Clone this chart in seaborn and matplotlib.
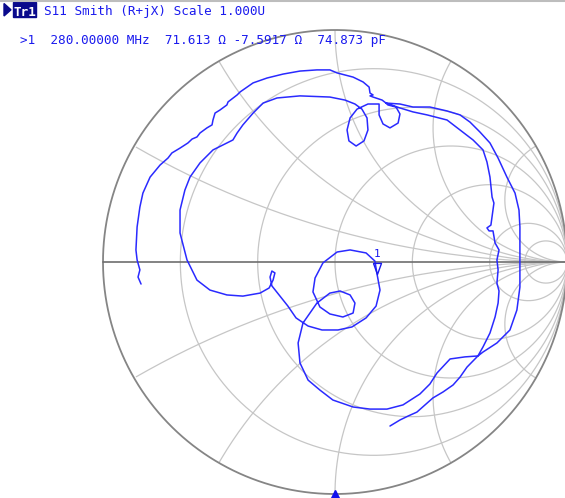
import numpy as np
import pandas as pd
import seaborn as sns
import matplotlib.pyplot as plt
from matplotlib.patches import Rectangle, Polygon

# ---- trace data: reflection coefficient (Re, Im) ----
left_outer = [(-0.836, -0.095), (-0.849, -0.065), (-0.841, -0.034), (-0.853, 0.009),
              (-0.858, 0.052), (-0.853, 0.151), (-0.841, 0.237), (-0.828, 0.297),
              (-0.797, 0.366), (-0.754, 0.418), (-0.720, 0.448), (-0.703, 0.470),
              (-0.668, 0.491), (-0.634, 0.513), (-0.616, 0.530), (-0.595, 0.539),
              (-0.582, 0.556), (-0.552, 0.578), (-0.530, 0.591), (-0.526, 0.612),
              (-0.517, 0.642), (-0.496, 0.655), (-0.466, 0.677), (-0.461, 0.690),
              (-0.422, 0.720), (-0.409, 0.733), (-0.353, 0.772), (-0.293, 0.793),
              (-0.224, 0.810), (-0.151, 0.823), (-0.078, 0.828), (-0.022, 0.828),
              (0.009, 0.815), (0.078, 0.797), (0.121, 0.776), (0.147, 0.754),
              (0.151, 0.728), (0.164, 0.720), (0.151, 0.716), (0.164, 0.711),
              (0.203, 0.698), (0.220, 0.685)]
right_outer = [(0.280, 0.681), (0.336, 0.668), (0.409, 0.668), (0.483, 0.651),
               (0.539, 0.634), (0.582, 0.603), (0.625, 0.560), (0.668, 0.513),
               (0.703, 0.448), (0.741, 0.366), (0.776, 0.297), (0.793, 0.224),
               (0.797, 0.151), (0.797, 0.009), (0.797, -0.108), (0.784, -0.207),
               (0.754, -0.293), (0.698, -0.349), (0.638, -0.388), (0.616, -0.405)]
bottom_arc = [(0.560, -0.409), (0.496, -0.418), (0.440, -0.478), (0.409, -0.526),
              (0.366, -0.569), (0.293, -0.616), (0.224, -0.634), (0.151, -0.634),
              (0.078, -0.625), (-0.009, -0.595), (-0.065, -0.552), (-0.116, -0.509),
              (-0.151, -0.435), (-0.159, -0.349), (-0.138, -0.263), (-0.078, -0.177),
              (-0.022, -0.134)]
center_loops = [(0.022, -0.125), (0.065, -0.142), (0.086, -0.177), (0.078, -0.220),
                (0.034, -0.237), (-0.022, -0.224), (-0.065, -0.194), (-0.095, -0.129),
                (-0.086, -0.069), (-0.052, -0.004), (0.009, 0.043), (0.065, 0.052),
                (0.134, 0.039), (0.172, 0.004), (0.181, -0.051), (0.194, -0.121),
                (0.177, -0.190), (0.134, -0.241), (0.073, -0.280), (0.013, -0.293),
                (-0.056, -0.293), (-0.116, -0.276), (-0.168, -0.241), (-0.203, -0.190),
                (-0.241, -0.142), (-0.272, -0.103), (-0.280, -0.065), (-0.272, -0.039),
                (-0.259, -0.047), (-0.267, -0.078), (-0.284, -0.112), (-0.323, -0.134),
                (-0.397, -0.147), (-0.466, -0.142), (-0.539, -0.121), (-0.595, -0.078)]
left_inner = [(-0.638, 0.009), (-0.668, 0.125), (-0.668, 0.224), (-0.647, 0.310),
              (-0.625, 0.366), (-0.582, 0.427), (-0.526, 0.483), (-0.466, 0.513),
              (-0.440, 0.526), (-0.422, 0.556), (-0.397, 0.591), (-0.353, 0.642),
              (-0.310, 0.685), (-0.250, 0.707), (-0.151, 0.716), (-0.022, 0.711),
              (0.043, 0.698), (0.086, 0.681), (0.116, 0.659), (0.138, 0.621),
              (0.142, 0.569), (0.125, 0.522), (0.091, 0.500), (0.060, 0.522),
              (0.052, 0.569), (0.065, 0.621), (0.095, 0.659), (0.142, 0.681),
              (0.190, 0.681), (0.190, 0.634), (0.207, 0.595), (0.237, 0.578),
              (0.272, 0.599), (0.280, 0.638), (0.263, 0.668), (0.228, 0.677),
              (0.220, 0.685)]
right_inner = [(0.280, 0.664), (0.336, 0.647), (0.397, 0.634), (0.483, 0.612),
               (0.539, 0.569), (0.595, 0.526), (0.638, 0.483), (0.655, 0.431),
               (0.668, 0.366), (0.677, 0.280), (0.685, 0.254), (0.681, 0.224),
               (0.672, 0.159), (0.655, 0.147), (0.664, 0.134), (0.681, 0.134),
               (0.690, 0.082), (0.707, 0.052), (0.698, 0.009), (0.703, -0.034),
               (0.698, -0.091), (0.707, -0.125), (0.703, -0.177), (0.690, -0.237),
               (0.668, -0.306), (0.638, -0.366), (0.616, -0.405)]
end_stub = [(0.569, -0.453), (0.539, -0.496), (0.509, -0.530), (0.466, -0.560),
            (0.422, -0.586), (0.388, -0.616), (0.353, -0.647), (0.315, -0.664),
            (0.280, -0.681), (0.237, -0.707)]

# marker 1 readout
marker_freq_mhz = 280.0
marker_r_ohm = 71.613
marker_x_ohm = -7.5917
marker_c_pf = 74.873
z0 = 50.0

# Smith grid values
r_grid = [0.2, 0.5, 1.0, 2.0, 5.0, 10.0]
x_grid = [0.268, 0.577, 1.0, 1.732, 3.732]

# ---- figure ----
W, H = 565, 498
cx, cy, R = 335, 262, 232  # chart centre / radius in pixels

sns.set_style("white")
plt.rcParams['font.family'] = ['DejaVu Sans Mono', 'DejaVu Sans']

fig = plt.figure(figsize=(W / 100, H / 100), dpi=100)
ax = fig.add_axes([0, 0, 1, 1])
ax.set_xlim(-cx / R, (W - cx) / R)
ax.set_ylim((cy - H) / R, cy / R)
ax.set_aspect('equal', adjustable='datalim')
ax.axis('off')

grid_col = '#c6c6c6'
t = np.linspace(0, 2 * np.pi, 1500)

# constant resistance circles
for r in r_grid:
    c, rad = r / (1 + r), 1 / (1 + r)
    ax.plot(c + rad * np.cos(t), rad * np.sin(t), color=grid_col, lw=0.9, zorder=1)

# constant reactance arcs
for xv in x_grid:
    for s in (1, -1):
        gx = 1 + np.cos(t) / xv
        gy = s / xv + np.sin(t) / xv
        inside = gx ** 2 + gy ** 2 <= 1.0005
        gx = np.where(inside, gx, np.nan)
        gy = np.where(inside, gy, np.nan)
        ax.plot(gx, gy, color=grid_col, lw=0.9, zorder=1)

# outer circle and real axis
ax.plot(np.cos(t), np.sin(t), color='#858585', lw=1.3, zorder=2)
ax.plot([-1, 1], [0, 0], color='#6e6e6e', lw=1.2, zorder=2)

# trace
trace = left_outer + right_outer + bottom_arc + center_loops + left_inner + right_inner + end_stub
df = pd.DataFrame(trace, columns=['re', 'im'])
sns.lineplot(data=df, x='re', y='im', sort=False, estimator=None,
             color='#2a2aff', lw=1.1, ax=ax, zorder=3)
ax.set_xlabel('')
ax.set_ylabel('')

trace_blue = '#1a1aee'

# marker 1
z = complex(marker_r_ohm, marker_x_ohm) / z0
g = (z - 1) / (z + 1)
tri_down = [(-0.36, 1.0), (0.36, 1.0), (0.0, 0.0), (-0.36, 1.0)]
ax.plot([g.real], [g.imag], marker=tri_down, ms=16, mfc='none', mec=trace_blue,
        mew=1.0, ls='none', zorder=4)
ax.annotate('1', xy=(g.real, g.imag), xytext=(0, 14.5), textcoords='offset points',
            ha='center', va='center', fontsize=8, color=trace_blue, zorder=4)

# stimulus indicator at the bottom
ax.plot([0], [-1], marker='^', ms=6, color='#1010ee', ls='none', zorder=4, clip_on=False)

# ---- header text ----
def fx(x):
    return x / W

def fy(y):
    return 1 - y / H

fig.add_artist(plt.Line2D([0, 1], [fy(1), fy(1)], transform=fig.transFigure,
                          color='#bdbdbd', lw=1.5))
fig.add_artist(Polygon([(fx(4), fy(3.5)), (fx(4), fy(16)), (fx(11), fy(9.8))],
                       closed=True, transform=fig.transFigure, color='#0a0a8c'))
fig.add_artist(Rectangle((fx(13), fy(17)), 23 / W, 15 / H, transform=fig.transFigure,
                         color='#0a0a8c'))
fs = 9.1
fig.text(fx(13.5), fy(15.5), 'Tr1', color='white', fontsize=fs, fontweight='bold',
         va='baseline')
fig.text(fx(44), fy(15.5), 'S11 Smith (R+jX) Scale 1.000U', color=trace_blue,
         fontsize=fs, va='baseline')
header2 = (f">1  {marker_freq_mhz:.5f} MHz  {marker_r_ohm:.3f} Ω "
           f"{marker_x_ohm:.4f} Ω  {marker_c_pf:.3f} pF")
fig.text(fx(20), fy(44), header2, color=trace_blue, fontsize=fs, va='baseline')

fig.savefig('out.png', dpi=100, facecolor='white')
